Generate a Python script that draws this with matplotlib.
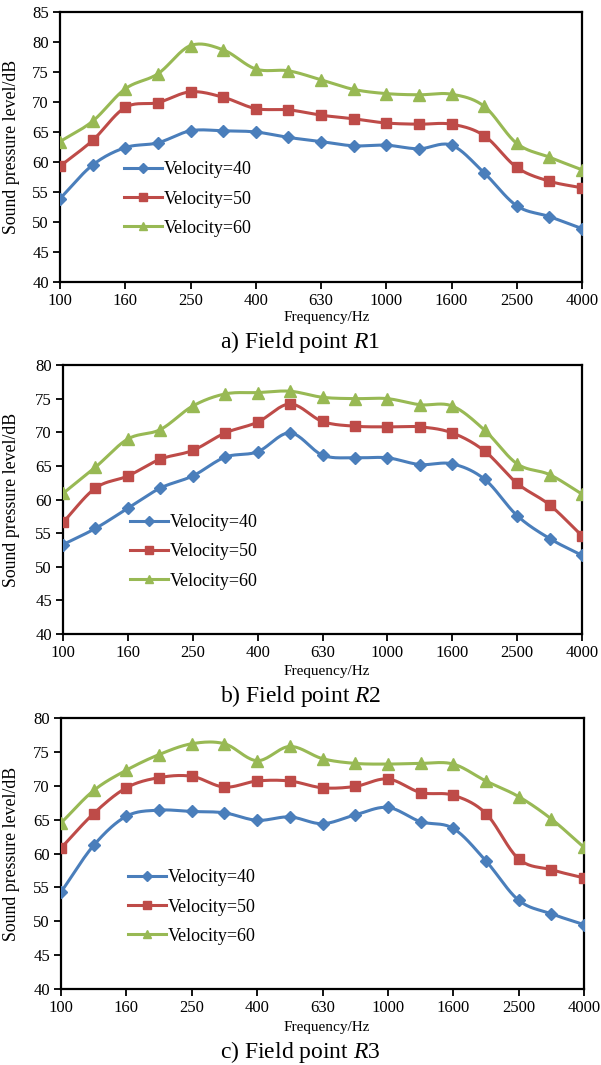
import numpy as np
import matplotlib.pyplot as plt

plt.rcParams['font.family'] = ['Liberation Serif', 'DejaVu Serif']
plt.rcParams['mathtext.fontset'] = 'custom'
plt.rcParams['mathtext.rm'] = 'Liberation Serif'
plt.rcParams['mathtext.it'] = 'Liberation Serif:italic'

freqs = ["100", "125", "160", "200", "250", "315", "400", "500", "630",
         "800", "1000", "1250", "1600", "2000", "2500", "3150", "4000"]

# field point R1
r1_v40 = [53.9, 59.5, 62.4, 63.2, 65.2, 65.2, 65.0, 64.1, 63.4, 62.7, 62.8, 62.2, 62.8, 58.2, 52.7, 50.9, 48.9]
r1_v50 = [59.3, 63.6, 69.1, 69.9, 71.7, 70.8, 68.9, 68.7, 67.8, 67.2, 66.5, 66.3, 66.3, 64.4, 59.1, 56.8, 55.7]
r1_v60 = [63.4, 66.8, 72.2, 74.7, 79.4, 78.7, 75.5, 75.2, 73.7, 72.1, 71.4, 71.2, 71.3, 69.3, 63.1, 60.8, 58.7]

# field point R2
r2_v40 = [53.3, 55.7, 58.7, 61.7, 63.5, 66.3, 67.1, 69.9, 66.6, 66.2, 66.2, 65.2, 65.3, 63.0, 57.6, 54.2, 51.7]
r2_v50 = [56.6, 61.7, 63.5, 66.0, 67.3, 69.9, 71.5, 74.2, 71.6, 70.9, 70.8, 70.8, 69.9, 67.2, 62.4, 59.2, 54.6]
r2_v60 = [60.9, 64.8, 69.0, 70.4, 73.9, 75.7, 75.9, 76.1, 75.2, 75.0, 75.0, 74.1, 73.9, 70.3, 65.3, 63.7, 60.8]

# field point R3
r3_v40 = [54.3, 61.2, 65.5, 66.4, 66.2, 66.0, 64.9, 65.4, 64.4, 65.7, 66.8, 64.7, 63.7, 58.9, 53.1, 51.1, 49.5]
r3_v50 = [60.8, 65.9, 69.7, 71.2, 71.4, 69.8, 70.7, 70.7, 69.7, 69.9, 71.0, 69.0, 68.6, 65.9, 59.2, 57.6, 56.4]
r3_v60 = [64.5, 69.3, 72.3, 74.6, 76.2, 76.2, 73.7, 75.8, 74.0, 73.3, 73.2, 73.3, 73.2, 70.7, 68.4, 65.1, 60.9]

panels = [
    ("a", "R1", [r1_v40, r1_v50, r1_v60], 85),
    ("b", "R2", [r2_v40, r2_v50, r2_v60], 80),
    ("c", "R3", [r3_v40, r3_v50, r3_v60], 80),
]
labels = ["Velocity=40", "Velocity=50", "Velocity=60"]
colors = ["#4A7EBB", "#BE4B48", "#98B954"]
markers = ["D", "s", "^"]
msizes = [6, 7.5, 8]


def smooth(x, y, n=20):
    # Catmull-Rom curve through the points, like Excel's smoothed line
    x = np.asarray(x, float)
    y = np.asarray(y, float)
    px = np.concatenate([[2 * x[0] - x[1]], x, [2 * x[-1] - x[-2]]])
    py = np.concatenate([[2 * y[0] - y[1]], y, [2 * y[-1] - y[-2]]])
    t = np.linspace(0, 1, n, endpoint=False)
    xs, ys = [], []
    for i in range(1, len(px) - 2):
        for p, out in ((px, xs), (py, ys)):
            p0, p1, p2, p3 = p[i - 1], p[i], p[i + 1], p[i + 2]
            out.extend(0.5 * (2 * p1 + (-p0 + p2) * t + (2 * p0 - 5 * p1 + 4 * p2 - p3) * t ** 2
                              + (-p0 + 3 * p1 - 3 * p2 + p3) * t ** 3))
    xs.append(x[-1])
    ys.append(y[-1])
    return np.array(xs), np.array(ys)


W, H = 601, 1065
fig = plt.figure(figsize=(W / 100, H / 100), dpi=100)
# axes boxes in pixels: left, right, top, bottom
boxes = [(60, 582, 12, 282), (63, 582, 365, 634), (61, 584, 718, 989)]
leg_x = [124, 130, 128]
leg_y = [199, 552, 907]
freq_y = [317, 671, 1027]
cap_y = [342, 696, 1052]

x = np.arange(len(freqs))
for (tag, pt, series, ytop), (l, r, t, b), lx, ly, fy, cy in zip(panels, boxes, leg_x, leg_y, freq_y, cap_y):
    ax = fig.add_axes([l / W, 1 - b / H, (r - l) / W, (b - t) / H])
    for vals, lab, c, m, ms in zip(series, labels, colors, markers, msizes):
        sx, sy = smooth(x, vals)
        ax.plot(sx, sy, color=c, lw=2.2, zorder=2)
        ax.plot(x, vals, linestyle='none', marker=m, ms=ms, color=c, zorder=3)
        ax.plot([], [], color=c, lw=2.2, marker=m, ms=ms, label=lab)
    ax.set_xlim(0, len(freqs) - 1)
    ax.set_ylim(40, ytop)
    ax.set_yticks(np.arange(40, ytop + 1, 5))
    ax.set_xticks(x[::2])
    ax.set_xticklabels(freqs[::2])
    ax.tick_params(direction='out', length=5, width=1.3, labelsize=12)
    ax.tick_params(axis='x', pad=3)
    ax.tick_params(axis='y', pad=3)
    for s in ax.spines.values():
        s.set_linewidth(1.6)
    ax.set_ylabel("Sound pressure level/dB", fontsize=12.8)
    ax.yaxis.set_label_coords((20 - l) / (r - l), 0.5)
    ax.legend(loc='center left', bbox_to_anchor=((lx - l) / (r - l), (b - ly) / (b - t)),
              frameon=False, fontsize=13, handlelength=2.1, handletextpad=0.1,
              labelspacing=0.68, borderpad=0, borderaxespad=0, markerscale=0.8)
    fig.text(327 / W, 1 - fy / H, "Frequency/Hz", ha='center', va='center', fontsize=11)
    fig.text(0.5, 1 - cy / H, f"{tag}) Field point $\\it{{{pt}}}$", ha='center', va='center', fontsize=17)

fig.savefig("out.png", dpi=100)
